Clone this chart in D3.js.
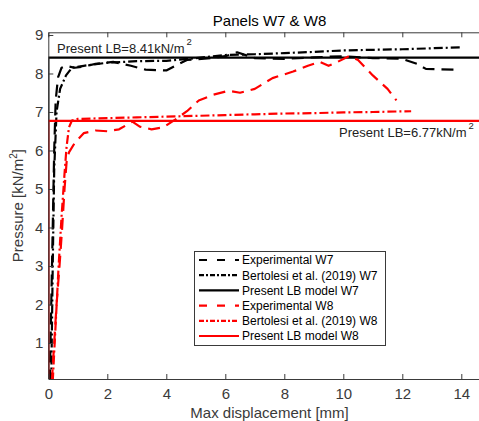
<!DOCTYPE html>
<html>
<head>
<meta charset="utf-8">
<script src="https://cdn.jsdelivr.net/npm/d3@7"></script>
<style>
  html, body { margin: 0; padding: 0; background: #fff; }
  svg { display: block; overflow: hidden; }
  text { font-family: "Liberation Sans", Arial, Helvetica, sans-serif; }
</style>
</head>
<body>
<svg id="chart" width="479" height="421"></svg>
<script>
// ---- Data ----
const title = "Panels W7 & W8";
const xLabel = "Max displacement [mm]";
const xTicks = [0, 2, 4, 6, 8, 10, 12, 14];
const yTicks = [1, 2, 3, 4, 5, 6, 7, 8, 9];

const expW7X = [0.05, 0.1, 0.15, 0.2, 0.25, 0.33, 0.45, 0.6, 0.9, 1.2, 1.6, 2.2, 2.8, 3.3, 4.0, 4.3, 4.7, 5.5, 6.0, 6.4, 7.0, 8.0, 9.0, 10.0, 11.0, 12.0, 12.5, 12.8, 13.8];
const expW7Y = [0, 2, 4, 6, 7.3, 7.9, 8.15, 8.2, 8.15, 8.18, 8.25, 8.3, 8.2, 8.1, 8.08, 8.2, 8.35, 8.4, 8.45, 8.55, 8.4, 8.38, 8.42, 8.45, 8.4, 8.38, 8.25, 8.12, 8.1];

const bertW7X = [0.1, 0.15, 0.2, 0.28, 0.4, 0.6, 0.8, 1.2, 2, 3, 4, 5, 6, 7, 8, 9, 10, 12, 14];
const bertW7Y = [0, 3, 5.5, 7.0, 7.6, 7.95, 8.15, 8.2, 8.28, 8.32, 8.33, 8.4, 8.48, 8.5, 8.53, 8.56, 8.6, 8.63, 8.68];

const lbW7X = [0, 0, 15];
const lbW7Y = [0, 8.41, 8.41];

const expW8X = [0.12, 0.2, 0.28, 0.38, 0.47, 0.55, 0.62, 0.7, 0.9, 1.2, 1.6, 2.0, 2.4, 2.85, 3.1, 3.5, 3.9, 4.3, 4.7, 5.1, 5.6, 6.1, 6.5, 7.0, 7.6, 8.3, 8.8, 9.2, 9.5, 9.8, 10.2, 10.5, 11.0, 11.5, 11.8];
const expW8Y = [0, 1, 2, 3, 4, 5, 5.7, 5.95, 6.2, 6.45, 6.52, 6.5, 6.55, 6.75, 6.62, 6.55, 6.6, 6.8, 7.02, 7.3, 7.45, 7.55, 7.5, 7.6, 7.88, 8.05, 8.2, 8.3, 8.2, 8.3, 8.45, 8.35, 7.95, 7.6, 7.3];

const bertW8X = [0.15, 0.25, 0.35, 0.45, 0.55, 0.62, 0.7, 0.8, 1.0, 2, 3, 4, 5, 6, 7, 8, 9, 10, 11, 12.3];
const bertW8Y = [0, 1.5, 3, 4.3, 5.4, 6.1, 6.6, 6.78, 6.82, 6.84, 6.86, 6.88, 6.9, 6.92, 6.94, 6.96, 6.97, 6.99, 7.0, 7.02];

const lbW8X = [0, 0, 15];
const lbW8Y = [0, 6.77, 6.77];

const seriesNames = ["Experimental W7", "Bertolesi et al. (2019) W7", "Present LB model W7",
                     "Experimental W8", "Bertolesi et al. (2019) W8", "Present LB model W8"];
const seriesX = [expW7X, bertW7X, lbW7X, expW8X, bertW8X, lbW8X];
const seriesY = [expW7Y, bertW7Y, lbW7Y, expW8Y, bertW8Y, lbW8Y];
const seriesColor = ["#000000", "#000000", "#000000", "#ff0000", "#ff0000", "#ff0000"];
const seriesDash = ["12,7", "9,3,2,3", null, "12,7", "9,3,2,3", null];
const legendDash = ["8,10", "5,2,2,2", null, "8,10", "5,2,2,2", null];

const annotW7 = {text: "Present LB=8.41kN/m", value: 8.41};
const annotW8 = {text: "Present LB=6.77kN/m", value: 6.77};

// ---- Layout ----
const svg = d3.select("#chart");
const L = 48.3, R = 490.8, T = 32.3, B = 379;
const x = d3.scaleLinear().domain([0, 15]).range([L, R]);
const y = d3.scaleLinear().domain([0.065, 9.07]).range([B, T]);
const axisColor = "#3a3a3a";

svg.append("defs").append("clipPath").attr("id", "plotclip")
  .append("rect").attr("x", L).attr("y", T).attr("width", R - L).attr("height", B - T);

// Title
svg.append("text").attr("x", (L + R) / 2).attr("y", 26).attr("text-anchor", "middle")
  .attr("font-size", 15).attr("fill", "#000").text(title);

// Series
const line = d3.line().x(d => x(d[0])).y(d => y(d[1]));
const gLines = svg.append("g").attr("clip-path", "url(#plotclip)");
seriesX.forEach((xs, i) => {
  const pts = xs.map((v, k) => [v, seriesY[i][k]]);
  gLines.append("path").datum(pts)
    .attr("d", line)
    .attr("fill", "none")
    .attr("stroke", seriesColor[i])
    .attr("stroke-width", 2.2)
    .attr("stroke-dasharray", seriesDash[i])
    .attr("stroke-linejoin", "round");
});

// Axes
function styleAxis(g) {
  g.select(".domain").attr("stroke", axisColor);
  g.selectAll(".tick line").attr("stroke", axisColor);
  g.selectAll(".tick text").attr("fill", axisColor).attr("font-size", 15)
    .attr("font-family", '"Liberation Sans", Arial, sans-serif');
}
svg.append("g").attr("transform", `translate(0,${B})`)
  .call(d3.axisBottom(x).tickValues(xTicks).tickSize(-5).tickSizeOuter(0).tickPadding(9).tickFormat(d3.format("d")))
  .call(styleAxis);
svg.append("g").attr("transform", `translate(0,${T})`)
  .call(d3.axisTop(x).tickValues(xTicks).tickSize(-5).tickSizeOuter(0).tickFormat(""))
  .call(styleAxis);
svg.append("g").attr("transform", `translate(${L},0)`)
  .call(d3.axisLeft(y).tickValues(yTicks).tickSize(-5).tickSizeOuter(0).tickPadding(5).tickFormat(d3.format("d")))
  .call(styleAxis);

// Axis labels
svg.append("text").attr("x", (L + R) / 2).attr("y", 417.5).attr("text-anchor", "middle")
  .attr("font-size", 15).attr("fill", axisColor).text(xLabel);
const yl = svg.append("text").attr("transform", `translate(23,${(T + B) / 2}) rotate(-90)`)
  .attr("text-anchor", "middle").attr("font-size", 15).attr("fill", axisColor);
yl.append("tspan").text("Pressure [kN/m");
yl.append("tspan").attr("font-size", 10).attr("dy", -6).text("2");
yl.append("tspan").attr("dy", 6).text("]");

// Annotations
function annot(a, ax, ay) {
  const t = svg.append("text").attr("x", ax).attr("y", ay).attr("font-size", 13).attr("fill", "#222");
  t.append("tspan").text(a.text);
  t.append("tspan").attr("font-size", 9.5).attr("dy", -8).attr("dx", 2).text("2");
}
annot(annotW7, 57, y(annotW7.value) - 4.5);
annot(annotW8, 339, y(annotW8.value) + 16);

// Legend
const lg = svg.append("g");
const lx = 194, ly = 251, lw = 191, lh = 94;
lg.append("rect").attr("x", lx + 0.5).attr("y", ly + 0.5).attr("width", lw).attr("height", lh)
  .attr("fill", "#fff").attr("stroke", axisColor).attr("stroke-width", 1);
seriesNames.forEach((name, i) => {
  const ry = 260 + i * 15.2;
  lg.append("line").attr("x1", 199).attr("x2", 239).attr("y1", ry).attr("y2", ry)
    .attr("stroke", seriesColor[i]).attr("stroke-width", 2.2)
    .attr("stroke-dasharray", legendDash[i]);
  lg.append("text").attr("x", 242).attr("y", ry + 4.3).attr("font-size", 12).attr("fill", "#000").text(name);
});
</script>
</body>
</html>
